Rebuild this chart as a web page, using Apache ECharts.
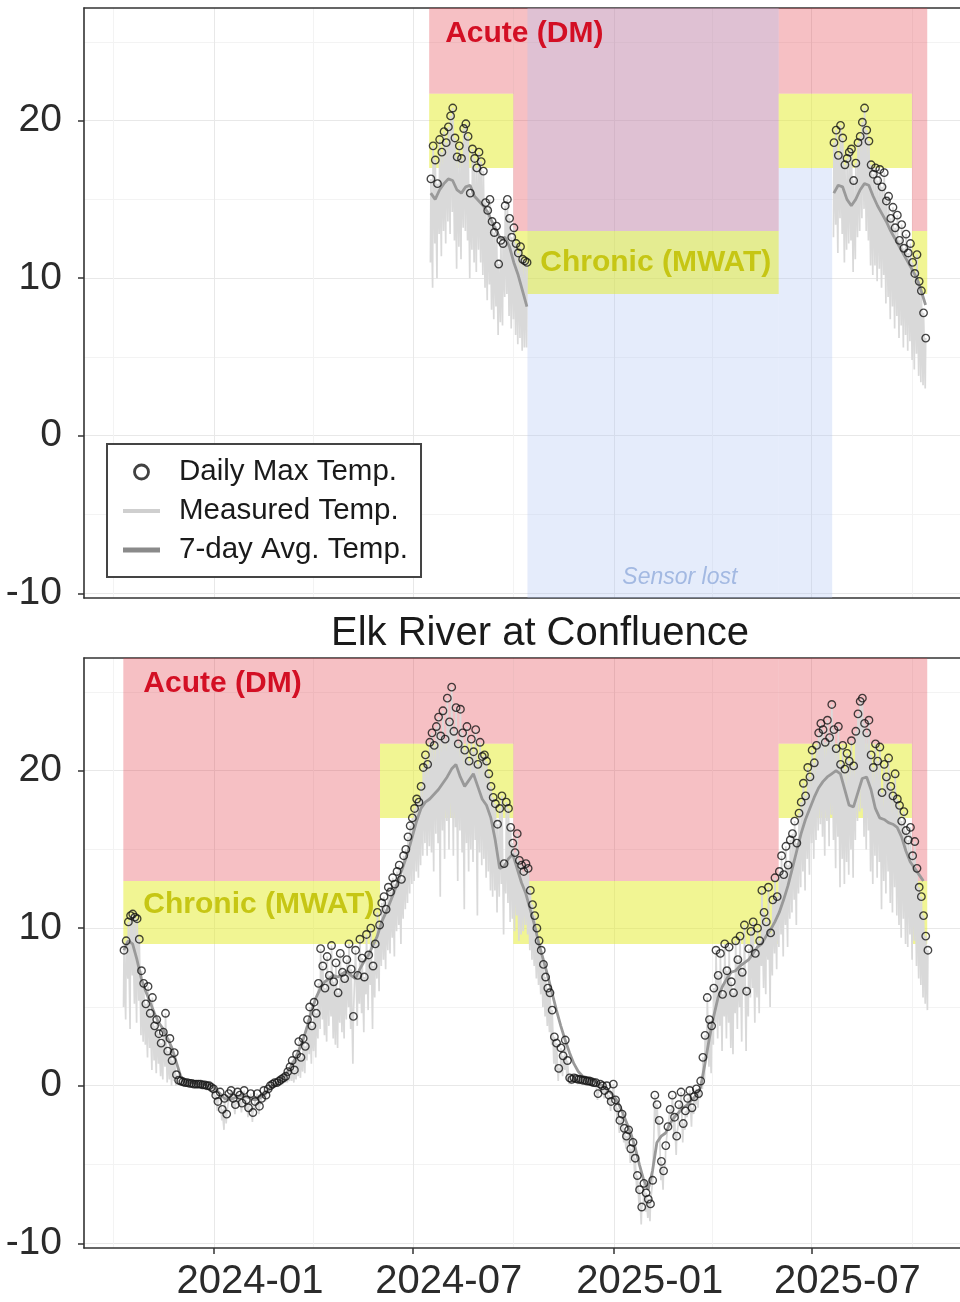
<!DOCTYPE html>
<html><head><meta charset="utf-8">
<script src="https://cdn.jsdelivr.net/npm/echarts@6/dist/echarts.min.js"></script>
<style>html,body{margin:0;padding:0;background:#fff}#c{width:960px;height:1302px}</style>
</head><body><div id="c"></div>
<script>
// ================= DATA =================
// Bottom panel: Elk River at Confluence (daily values every 2 days, 7-day avg every 4 days)
const bottomStart = '2023-10-10';
const bottomMax = [
8.6,9.2,10.4,10.8,10.9,10.7,10.6,9.3,7.3,6.5,
5.2,6.3,4.6,5.6,3.8,4.2,3.3,2.7,3.4,4.6,
2.2,3.0,1.6,2.1,0.7,0.35,0.3,0.25,0.2,0.2,
0.15,0.15,0.1,0.1,0.1,0.1,0.05,0.05,0.0,0.0,
-0.1,-0.2,-0.6,-1.0,-0.4,-1.5,-0.8,-1.8,-0.5,-0.3,
-0.8,-1.2,-0.4,-0.6,-1.1,-0.3,-0.9,-1.4,-0.5,-1.7,
-1.0,-0.5,-1.3,-0.8,-0.3,-0.6,-0.2,0.0,0.1,0.2,
0.2,0.3,0.4,0.5,0.6,0.9,1.2,1.6,1.0,2.0,
2.8,1.8,3.0,2.5,4.2,5.0,3.8,5.3,4.6,6.5,
8.7,7.6,6.2,8.2,7.0,8.9,6.6,7.8,5.9,8.4,
7.2,6.8,8.0,9.0,7.4,4.4,8.6,7.0,9.3,8.1,
6.9,9.6,8.3,10.0,7.6,9.0,11.0,10.2,11.6,12.0,
11.2,12.6,12.3,13.2,12.8,13.6,14.0,13.1,14.6,15.0,
15.8,16.5,17.0,17.6,18.2,18.0,19.0,20.2,21.0,20.4,
21.8,22.4,21.6,22.8,23.4,22.2,23.8,22.0,24.6,23.1,
25.3,22.5,24.0,21.7,23.9,22.4,21.3,22.8,20.6,22.0,
21.2,22.6,20.4,21.8,20.9,21.0,20.6,19.8,19.0,18.3,
17.9,16.6,17.6,18.4,14.1,18.0,17.6,16.4,15.4,14.8,
16.0,14.3,14.0,13.6,14.1,13.8,12.4,11.5,10.8,10.0,
9.2,8.6,7.7,6.9,6.2,5.9,4.8,3.1,2.7,1.1,
2.4,1.9,2.9,1.6,0.5,0.4,0.5,0.45,0.4,0.4,
0.35,0.35,0.3,0.3,0.25,0.2,0.2,-0.5,0.1,0.0,
-0.3,0.0,-0.6,-1.0,0.1,-0.9,-1.4,-2.2,-1.8,-2.7,
-3.2,-2.8,-4.0,-3.6,-4.6,-5.7,-6.6,-7.7,-6.2,-6.8,
-7.2,-7.5,-6.0,-0.6,-1.2,-2.2,-4.8,-5.4,-3.8,-2.6,
-1.5,-0.6,-2.0,-3.2,-1.2,-0.4,-2.4,-1.6,-0.8,-0.3,
-1.4,-0.7,-0.2,-0.5,0.3,1.8,3.2,5.6,4.2,3.8,
6.2,8.6,7.0,8.4,5.8,9.0,7.3,8.8,6.6,5.9,
9.2,8.0,9.5,7.2,10.2,6.0,8.7,9.8,10.4,8.4,
10.0,9.2,12.4,11.0,10.4,12.6,9.7,11.8,13.2,12.0,
13.6,14.6,13.4,15.2,14.0,15.6,16.0,16.8,15.4,17.3,
18.0,19.2,18.4,20.2,19.6,21.3,20.5,21.6,22.4,23.0,
22.6,21.8,23.2,22.1,24.2,22.6,21.4,22.8,20.4,21.6,
20.1,21.1,20.6,21.9,20.3,22.5,23.6,24.4,24.6,23.0,
22.4,23.2,21.0,20.2,21.7,20.6,21.5,18.6,20.4,19.6,
20.8,19.0,18.4,19.8,18.2,17.8,16.8,17.4,16.2,15.6,
16.4,14.6,15.5,13.8,12.6,12.0,10.8,9.5,8.6
];
const bottomMin = [
5.0,4.2,6.8,3.6,7.0,5.2,4.0,5.4,3.2,2.8,
2.6,1.8,2.4,1.0,1.6,0.8,1.4,0.6,0.4,1.2,
0.2,0.4,0.0,0.3,0.0,0.1,0.1,0.05,0.05,0.0,
0.0,0.0,-0.05,-0.05,-0.1,-0.1,-0.1,-0.15,-0.2,-0.2,
-0.4,-0.6,-1.2,-1.6,-1.0,-2.2,-2.8,-2.4,-1.0,-0.8,
-1.4,-1.8,-1.0,-1.2,-1.7,-0.9,-1.5,-2.0,-1.1,-2.3,
-1.6,-1.0,-1.8,-1.3,-0.8,-1.0,-0.6,-0.3,-0.2,-0.1,
0.0,0.0,0.1,0.1,0.2,0.2,0.3,0.3,0.2,0.4,
0.6,0.5,0.9,0.8,1.6,2.0,1.4,2.2,1.8,3.0,
3.6,4.2,3.2,2.8,3.8,4.4,3.0,2.6,2.4,4.0,
3.4,3.0,4.2,5.0,3.6,1.4,4.4,3.8,5.2,4.6,
3.4,5.8,4.8,6.4,3.6,5.6,6.8,6.0,7.6,8.0,
7.4,8.6,8.4,9.4,8.2,9.8,10.2,9.0,10.6,11.2,
11.6,12.2,12.8,13.0,13.6,13.2,14.0,14.6,15.4,14.6,
15.2,14.8,13.6,16.0,15.4,12.0,16.2,14.4,16.8,15.0,
17.0,14.6,16.4,13.0,16.2,14.8,11.2,15.4,13.6,15.0,
14.2,15.6,10.8,14.8,14.0,14.4,13.2,13.6,12.4,12.0,
12.4,11.0,12.0,12.8,9.6,12.2,11.6,10.4,10.6,9.8,
10.8,9.2,9.6,9.8,10.2,9.6,8.6,8.0,7.6,6.8,
6.4,5.8,5.0,4.4,3.8,3.4,2.6,1.4,1.0,0.3,
0.8,0.6,1.0,0.4,0.1,0.1,0.2,0.15,0.1,0.1,
0.1,0.05,0.05,0.0,0.0,-0.05,-0.1,-0.9,-0.2,-0.4,
-0.8,-0.5,-1.2,-1.6,-0.4,-1.6,-2.2,-3.0,-2.6,-3.6,
-4.0,-3.8,-4.9,-4.6,-5.6,-6.8,-7.6,-8.8,-7.4,-8.0,
-8.4,-8.6,-7.4,-2.0,-2.4,-3.4,-6.0,-6.6,-5.0,-3.8,
-2.6,-1.8,-3.2,-4.4,-2.4,-1.6,-3.6,-2.8,-2.0,-1.4,
-2.6,-1.8,-1.2,-1.4,-0.8,-0.2,0.4,1.8,1.2,0.8,
2.6,4.0,3.0,3.8,2.2,4.4,3.0,4.0,2.4,2.0,
4.6,3.6,5.0,2.8,5.8,2.2,4.4,5.6,6.2,4.0,
5.6,4.6,7.6,6.2,5.8,8.0,5.0,7.0,8.4,7.4,
8.8,9.6,8.2,10.2,8.8,10.6,11.0,11.8,10.2,12.2,
12.6,13.6,12.4,14.4,13.4,15.4,14.4,15.6,16.2,16.6,
15.8,14.6,16.8,15.2,17.2,15.6,13.8,15.8,12.6,14.4,
12.8,14.2,13.4,15.0,13.2,15.6,16.8,17.4,17.6,15.8,
15.0,16.2,13.6,12.8,14.6,13.2,14.2,11.2,13.0,12.2,
13.6,11.6,11.0,12.6,10.8,10.2,9.4,10.6,9.0,8.8,
9.6,8.0,9.2,7.6,6.8,6.4,5.6,5.2,4.8
];
const bottomAvg = [
8.6,9.2,9.0,8.0,6.8,6.0,5.3,4.6,4.0,3.6,
3.0,2.4,1.5,0.6,0.3,0.2,0.2,0.15,0.1,0.05,
0.0,-0.2,-0.5,-0.8,-0.9,-0.8,-0.7,-0.6,-0.7,-0.8,
-0.9,-0.8,-0.6,-0.3,0.0,0.2,0.4,0.7,1.1,1.6,
2.2,2.9,3.8,4.8,5.6,6.2,6.6,6.8,7.0,6.9,
7.1,7.3,7.0,6.8,7.4,7.9,8.3,8.9,9.5,10.4,
11.0,11.7,12.4,13.2,14.0,14.8,15.8,16.8,17.6,18.0,
18.2,18.5,18.8,19.2,19.6,20.1,20.4,19.6,19.0,19.4,
19.8,19.0,18.2,17.8,17.0,15.6,13.8,13.9,14.4,14.7,
13.8,12.9,12.2,11.2,10.2,9.0,8.0,7.0,5.9,4.8,
3.8,2.9,2.1,1.4,0.9,0.6,0.45,0.35,0.25,0.1,
-0.1,-0.3,-0.6,-1.0,-1.6,-2.3,-3.0,-3.9,-5.0,-6.0,
-6.6,-5.4,-3.6,-3.2,-3.0,-2.4,-2.0,-1.7,-1.4,-1.2,
-0.9,-0.6,-0.1,1.4,3.0,4.4,5.6,6.3,6.8,7.2,
7.3,7.6,7.8,8.0,8.4,8.8,9.0,9.5,9.9,10.4,
11.0,11.8,12.7,13.8,14.9,16.0,16.9,17.6,18.3,18.9,
19.3,19.6,19.8,20.0,19.8,18.8,17.8,17.7,18.6,19.5,
19.6,18.8,17.6,17.0,16.9,16.7,16.6,16.4,15.8,14.9,
14.2,13.8,13.4,13.0
];
// Top panel, first record (2024) and second record (2025)
const topAStart = '2024-07-17';
const topAMax = [16.3,18.4,17.5,16.0,18.8,18.0,19.3,18.6,19.6,20.3,20.8,18.9,17.7,18.4,17.6,19.5,19.8,19.0,15.4,18.2,17.6,17.0,18.0,17.4,16.8,14.8,14.3,15.0,13.6,12.9,13.3,10.9,12.4,12.2,14.6,15.0,13.8,12.6,13.2,12.2,11.6,12.0,11.2,11.1,11.0];
const topAMin = [11.0,9.4,12.2,10.0,12.8,11.4,13.0,12.2,13.6,12.8,14.2,12.4,10.6,12.0,11.2,13.2,13.0,12.4,10.0,11.8,11.0,10.4,11.8,11.0,10.2,9.4,8.6,9.6,8.0,7.4,8.2,6.4,7.2,7.0,8.8,9.0,7.6,6.8,7.4,6.4,5.8,6.2,5.4,5.6,5.6];
const topAAvg = [15.4,15.0,15.6,16.0,16.3,16.2,15.6,15.4,15.8,15.9,15.2,14.9,14.6,14.2,13.6,13.0,12.5,12.6,12.0,11.0,10.2,9.2,8.2];
const topBStart = '2025-07-21';
const topBMax = [18.6,19.4,17.8,19.7,18.9,17.2,17.6,18.0,18.2,16.2,17.3,18.6,19.0,19.9,20.8,19.4,18.7,17.2,16.6,17.0,16.2,16.9,15.8,16.7,14.9,15.2,13.8,14.5,13.2,14.0,12.4,13.4,11.9,12.8,11.6,12.2,11.0,10.3,11.5,9.8,9.2,7.8,6.2];
const topBMin = [12.6,13.4,11.6,13.8,12.8,11.0,11.8,12.2,12.4,10.4,11.2,12.6,13.0,13.8,14.4,13.0,12.4,10.8,10.2,10.8,9.8,10.6,9.4,10.2,8.4,8.8,7.4,8.2,6.8,7.6,6.2,7.0,5.6,6.4,5.4,6.0,4.8,4.2,5.2,3.8,3.4,3.2,3.0];
const topBAvg = [15.4,15.9,15.8,15.0,14.6,15.0,15.6,16.0,15.9,15.2,14.6,14.1,13.6,13.0,12.5,12.0,11.5,11.0,10.5,10.0,9.2,8.3];

// Temperature standard periods and limits
const seasonPeriods = [
  ['2023-10-10','2024-06-01','winter'],
  ['2024-06-01','2024-10-01','summer'],
  ['2024-10-01','2025-06-01','winter'],
  ['2025-06-01','2025-10-01','summer'],
  ['2025-10-01','2025-10-15','winter']
];
const acuteLimit = {summer: 21.7, winter: 13.0};
const chronicLimit = {summer: 17.0, winter: 9.0};
const sensorLost = ['2024-10-14','2025-07-20'];

// Axes
const xTickLabels = ['2024-01-01','2024-07-01','2025-01-01','2025-07-01'];
const xMinorTicks = ['2023-10-01','2024-04-01','2024-10-01','2025-04-01','2025-10-01'];
const yTicks = [-10, 0, 10, 20];
const yMinorTicks = [-5, 5, 15, 25];
const xRange = ['2023-09-04','2025-11-14'];
const yRange = [-10.3, 27.15];

// ================= HELPERS =================
const FONT = '"Liberation Sans", Arial, Helvetica, sans-serif';
const HOUR = 3600e3;
function ts(s, add) { const p = s.split('-').map(Number); return new Date(p[0], p[1]-1, p[2] + (add||0)).getTime(); }
function pts(start, step, vals, h) { return vals.map((v,i) => [ts(start, i*step) + h*HOUR, v]); }
function zigzag(start, step, mins, maxs) {
  const out = [];
  mins.forEach((mn, i) => { const t = ts(start, i*step); out.push([t + 4*HOUR, mn]); out.push([t + 15*HOUR, maxs[i]]); });
  return out;
}
function fmtMonth(v) { const d = new Date(v); const m = d.getMonth()+1; return d.getFullYear() + '-' + (m<10?'0':'') + m; }

const RED = 'rgba(226,58,70,0.32)';
const YEL = 'rgba(228,235,40,0.5)';
const BLUE = 'rgba(173,196,244,0.32)';

function bandSeries(p, panelStart, lab) {
  const periods = seasonPeriods.filter(pr => ts(pr[1]) > ts(panelStart))
    .map(pr => [ts(pr[0]) < ts(panelStart) ? panelStart : pr[0], pr[1], pr[2]]);
  const base = {type:'line', data:[], xAxisIndex: 2*p, yAxisIndex: 2*p, silent:true, z:1, symbol:'none'};
  const labStyle = (txt, color, pos, off) => ({show:true, formatter: txt, position: pos, distance: 0, offset: off,
      color: color, fontSize: 30, fontWeight: 'bold', fontFamily: FONT});
  const red = periods.map((pr,k) => [
    Object.assign({xAxis: ts(pr[0]), yAxis: acuteLimit[pr[2]]},
      k === lab.acuteIdx ? {label: labStyle('Acute (DM)', '#d30f24', 'insideTopLeft', lab.acuteOff)} : {}),
    {xAxis: ts(pr[1]), yAxis: yRange[1]}]);
  const yel = periods.map((pr,k) => [
    Object.assign({xAxis: ts(pr[0]), yAxis: chronicLimit[pr[2]]},
      k === lab.chronicIdx ? {label: labStyle('Chronic (MWAT)', '#c6c614', 'insideLeft', lab.chronicOff)} : {}),
    {xAxis: ts(pr[1]), yAxis: acuteLimit[pr[2]]}]);
  const out = [
    Object.assign({}, base, {markArea:{silent:true, label:{show:false}, emphasis:{disabled:true}, itemStyle:{color: RED}, data: red}})
  ];
  if (lab.sensor) {
    const s0 = ts(sensorLost[0]), s1 = ts(sensorLost[1]);
    const blue = [];
    periods.forEach(pr => {
      const a = Math.max(ts(pr[0]), s0), b = Math.min(ts(pr[1]), s1);
      if (b <= a) return;
      blue.push([{xAxis: a, yAxis: yRange[0]}, {xAxis: b, yAxis: pr[2] === 'winter' ? yRange[1] : chronicLimit[pr[2]]}]);
    });
    blue.push([{xAxis: s0, yAxis: yRange[0], itemStyle:{color:'rgba(0,0,0,0)'},
        label:{show:true, formatter:'Sensor lost', position:'insideBottom', distance: 0, offset:[0,-9],
        color:'#a3b9e2', fontSize: 23, fontStyle:'italic', fontFamily: FONT}},
      {xAxis: s1, yAxis: yRange[1]}]);
    out.push(Object.assign({}, base, {markArea:{silent:true, label:{show:false}, emphasis:{disabled:true}, itemStyle:{color: BLUE}, data: blue}}));
  }
  out.push(Object.assign({}, base, {markArea:{silent:true, label:{show:false}, emphasis:{disabled:true}, itemStyle:{color: YEL}, data: yel}}));
  return out;
}

function dataSeries(p, start, mins, maxs, avg) {
  return [
    {type:'line', name:'Measured Temp.', xAxisIndex:2*p, yAxisIndex:2*p, data: zigzag(start, 2, mins, maxs),
     symbol:'none', lineStyle:{color:'#d9d9d9', width:1.7}, z:2, silent:true},
    {type:'line', name:'7-day Avg. Temp.', xAxisIndex:2*p, yAxisIndex:2*p, data: pts(start, 4, avg, 12),
     symbol:'none', lineStyle:{color:'#999999', width:2.8}, z:3, silent:true},
    {type:'scatter', name:'Daily Max Temp.', xAxisIndex:2*p, yAxisIndex:2*p, data: pts(start, 2, maxs, 15),
     symbol:'circle', symbolSize:7.5, itemStyle:{color:'rgba(0,0,0,0)', borderColor:'#161616', borderWidth:1.35}, z:4, silent:true}
  ];
}

const grids = [
  {left:84, top:8, width:876, height:590, show:false},
  {left:84, top:658, width:876, height:590, show:false}
];
const axisLineStyle = {color:'#333', width:1.6};
function xAxes(g, labels) {
  return [
    {type:'value', gridIndex:g, position:'bottom', min: ts(xRange[0]), max: ts(xRange[1]),
     axisLine:{show:true, onZero:false, lineStyle:axisLineStyle},
     axisTick:{show: labels, customValues: xTickLabels.map(s=>ts(s)), length:6, lineStyle:{color:'#333', width:1.5}},
     axisLabel:{show: labels, customValues: xTickLabels.map(s=>ts(s)), formatter: fmtMonth, margin:14,
       padding:[0,0,0,72], fontSize:40, color:'#2b2b2b', fontFamily: FONT},
     splitLine:{show:true, lineStyle:{color:'#e8e8e8', width:1}}},
    {type:'value', gridIndex:g, position:'top', min: ts(xRange[0]), max: ts(xRange[1]),
     axisLine:{show:true, onZero:false, lineStyle:axisLineStyle},
     axisTick:{show:false, customValues: xMinorTicks.map(s=>ts(s))},
     axisLabel:{show:false},
     splitLine:{show:true, lineStyle:{color:'#f3f3f3', width:1}}}
  ];
}
function yAxes(g) {
  return [
    {type:'value', gridIndex:g, position:'left', min: yRange[0], max: yRange[1],
     axisLine:{show:true, onZero:false, lineStyle:axisLineStyle},
     axisTick:{show:true, customValues: yTicks, length:6, lineStyle:{color:'#333', width:1.5}},
     axisLabel:{show:true, customValues: yTicks, margin:22, fontSize:39, color:'#2b2b2b', fontFamily: FONT},
     splitLine:{show:true, lineStyle:{color:'#e8e8e8', width:1}}},
    {type:'value', gridIndex:g, position:'right', min: yRange[0], max: yRange[1],
     axisLine:{show:false}, axisTick:{show:false, customValues: yMinorTicks}, axisLabel:{show:false},
     splitLine:{show:true, lineStyle:{color:'#f3f3f3', width:1}}}
  ];
}

const series = [].concat(
  bandSeries(0, '2024-07-16', {acuteIdx:0, acuteOff:[16,11], chronicIdx:1, chronicOff:[27,0], sensor:true}),
  dataSeries(0, topAStart, topAMin, topAMax, topAAvg),
  dataSeries(0, topBStart, topBMin, topBMax, topBAvg),
  bandSeries(1, bottomStart, {acuteIdx:0, acuteOff:[20,11], chronicIdx:0, chronicOff:[20,-8], sensor:false}),
  dataSeries(1, bottomStart, bottomMin, bottomMax, bottomAvg)
);

const option = {
  animation: false,
  backgroundColor: '#fff',
  title: {text:'Elk River at Confluence', left:540, top:614, textAlign:'center', padding:0,
    textStyle:{fontSize:40, fontWeight:'normal', color:'#1a1a1a', fontFamily: FONT}},
  legend: {
    orient:'vertical', left:107, top:444, z:10,
    padding:[13,13,12,16], itemGap:9, itemWidth:37, itemHeight:14,
    backgroundColor:'#fff', borderColor:'#444', borderWidth:2, borderRadius:0,
    selectedMode:false,
    textStyle:{fontSize:29.5, color:'#1a1a1a', fontFamily: FONT, padding:[0,0,0,14], lineHeight:30},
    data:[
      {name:'Daily Max Temp.', icon:'circle', itemStyle:{color:'rgba(0,0,0,0)', borderColor:'#111', borderWidth:2.8}},
      {name:'Measured Temp.', icon:'path://M0,0H37V4H0Z', itemStyle:{color:'#cfcfcf', borderWidth:0}},
      {name:'7-day Avg. Temp.', icon:'path://M0,0H37V5H0Z', itemStyle:{color:'#8a8a8a', borderWidth:0}}
    ]
  },
  grid: grids,
  xAxis: [].concat(xAxes(0, false), xAxes(1, true)),
  yAxis: [].concat(yAxes(0), yAxes(1)),
  series: series
};

const chart = echarts.init(document.getElementById('c'), null, {renderer:'canvas'});
chart.setOption(option);
</script>
</body></html>
